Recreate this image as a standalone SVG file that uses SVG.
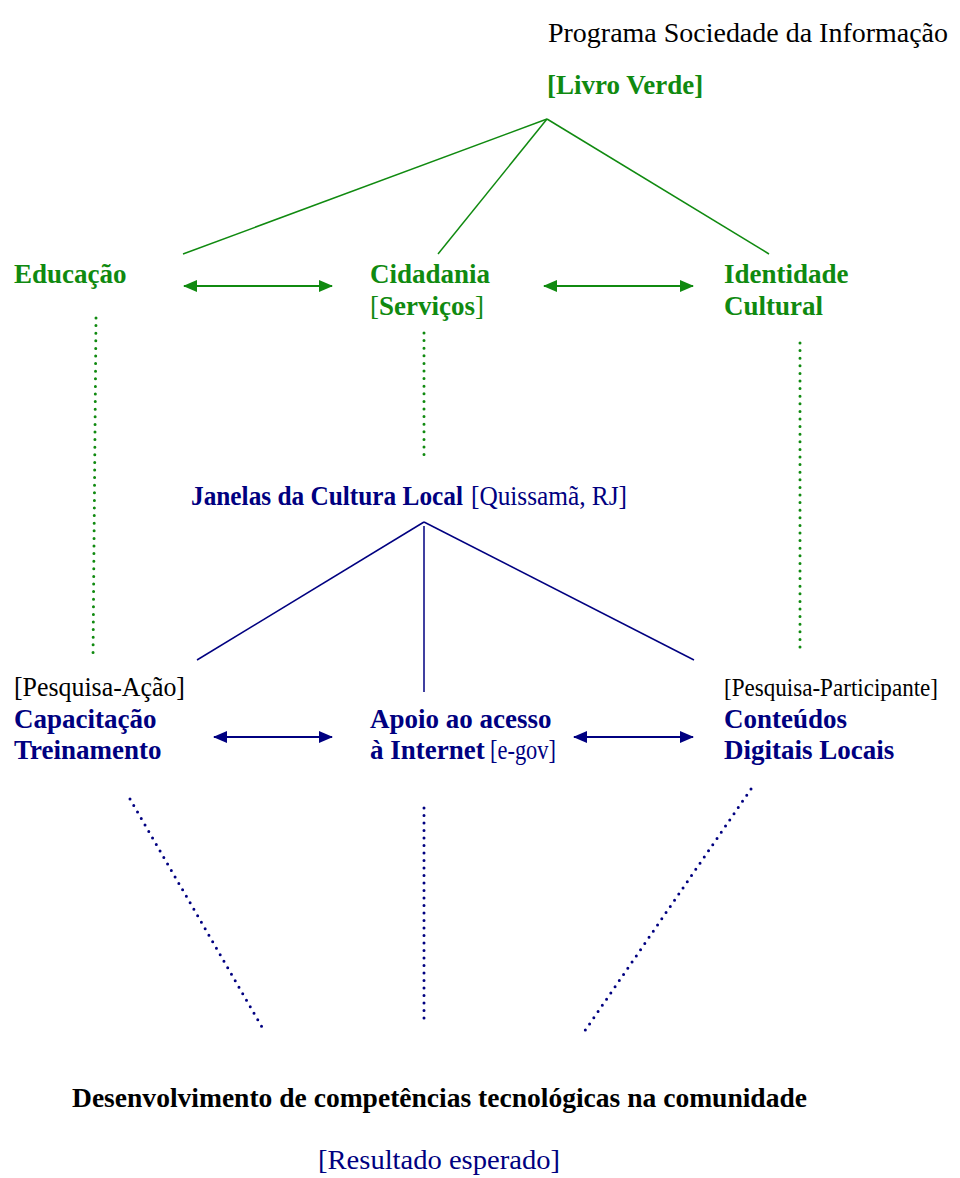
<svg xmlns="http://www.w3.org/2000/svg" width="960" height="1178" viewBox="0 0 960 1178">
<style>
text{font-family:"Liberation Serif","Times New Roman",serif;font-size:27px}
.b{font-weight:bold}
.g{fill:#108a10}
.n{fill:#000080}
.k{fill:#000}
.s{font-size:25px}
.lg{stroke:#108a10;stroke-width:1.5;fill:none}
.ln{stroke:#000080;stroke-width:1.5;fill:none}
.ag{stroke:#108a10;stroke-width:2.2;fill:none;marker-start:url(#hg);marker-end:url(#hg)}
.an{stroke:#000080;stroke-width:2.2;fill:none;marker-start:url(#hn);marker-end:url(#hn)}
.dg{stroke:#108a10;stroke-width:3;stroke-linecap:round;stroke-dasharray:0 7.6;fill:none}
.dn{stroke:#000080;stroke-width:3;stroke-linecap:round;stroke-dasharray:0 7.5;fill:none}
</style>
<defs>
<marker id="hg" viewBox="0 0 14 12" refX="13" refY="6" markerWidth="14" markerHeight="12" markerUnits="userSpaceOnUse" orient="auto-start-reverse"><path d="M0,0 L14,6 L0,12 Z" fill="#108a10"/></marker>
<marker id="hn" viewBox="0 0 14 12" refX="13" refY="6" markerWidth="14" markerHeight="12" markerUnits="userSpaceOnUse" orient="auto-start-reverse"><path d="M0,0 L14,6 L0,12 Z" fill="#000080"/></marker>
</defs>
<rect width="960" height="1178" fill="#fff"/>

<g id="connectors">
<path class="lg" d="M547,119 L183,254"/>
<path class="lg" d="M547,119 L438,254"/>
<path class="lg" d="M547,119 L769,254"/>
<path class="ag" d="M184,286 L332,286"/>
<path class="ag" d="M544,286 L693,286"/>
<path class="dg" d="M96,318 L93,658"/>
<path class="dg" d="M424,333 L424,455"/>
<path class="dg" d="M800,343 L800,654"/>
<path class="ln" d="M424,522 L197,660"/>
<path class="ln" d="M424,522 L694,660"/>
<path class="ln" d="M424,526 L424,692"/>
<path class="an" d="M214,737 L332,737"/>
<path class="an" d="M574,737 L693,737"/>
<path class="dn" d="M130,799 L262,1027"/>
<path class="dn" d="M424,808 L424,1020"/>
<path class="dn" d="M751,789 L584,1032"/>
</g>

<g id="title"><text class="k" x="548" y="42" textLength="400" lengthAdjust="spacingAndGlyphs">Programa Sociedade da Informação</text></g>
<g id="livro-verde"><text class="g b" x="547" y="94">[Livro Verde]</text></g>
<g id="educacao"><text class="g b" x="14" y="283">Educação</text></g>
<g id="cidadania"><text class="g b" x="370" y="283">Cidadania</text>
<text class="g" x="370" y="315"><tspan>[</tspan><tspan class="b">Serviços</tspan><tspan>]</tspan></text></g>
<g id="identidade"><text class="g b" x="724" y="283">Identidade</text><text class="g b" x="724" y="315">Cultural</text></g>
<g id="janelas"><text class="n b" x="191" y="505" textLength="272" lengthAdjust="spacingAndGlyphs">Janelas da Cultura Local</text>
<text class="n" x="471" y="505" textLength="156" lengthAdjust="spacingAndGlyphs">[Quissamã, RJ]</text></g>
<g id="capacitacao"><text class="k" x="14" y="696" textLength="171" lengthAdjust="spacingAndGlyphs">[Pesquisa-Ação]</text>
<text class="n b" x="14" y="728">Capacitação</text><text class="n b" x="14" y="759">Treinamento</text></g>
<g id="apoio"><text class="n b" x="370" y="728">Apoio ao acesso</text>
<text class="n b" x="370" y="759">à Internet</text><text class="n" x="490" y="759" textLength="66" lengthAdjust="spacingAndGlyphs">[e-gov]</text></g>
<g id="conteudos"><text class="k s" x="724" y="696" textLength="214" lengthAdjust="spacingAndGlyphs">[Pesquisa-Participante]</text>
<text class="n b" x="724" y="728">Conteúdos</text><text class="n b" x="724" y="759">Digitais Locais</text></g>
<g id="desenvolvimento"><text class="k b" x="72" y="1107" textLength="735" lengthAdjust="spacingAndGlyphs">Desenvolvimento de competências tecnológicas na comunidade</text></g>
<g id="resultado"><text class="n" x="318" y="1169" textLength="242" lengthAdjust="spacingAndGlyphs">[Resultado esperado]</text></g>
</svg>
